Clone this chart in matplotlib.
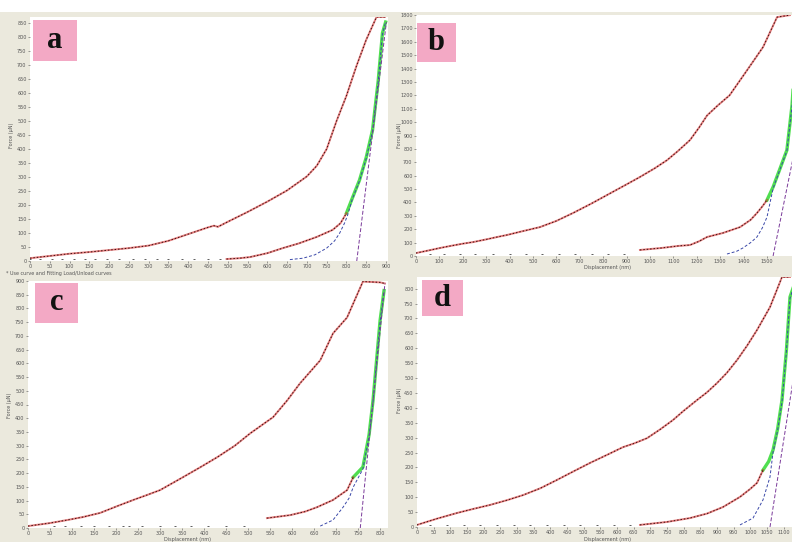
import matplotlib
matplotlib.use('Agg')
import matplotlib.pyplot as plt
from matplotlib.patches import Rectangle

# ---- panel a ----
a_upper_x = [0, 50, 100, 150, 200, 250, 300, 350, 400, 450, 465, 475, 500, 550, 600, 650,
             700, 725, 750, 775, 800, 825, 850, 876, 897]
a_upper_y = [10, 18, 26, 32, 39, 46, 55, 72, 96, 120, 126, 122, 140, 175, 212, 252,
             302, 340, 400, 500, 590, 695, 790, 871, 871]
a_lower_x = [497, 530, 556, 600, 639, 680, 725, 765, 785, 800]
a_lower_y = [7, 10, 14, 28, 46, 63, 86, 111, 135, 171]
a_base_x = [0, 25, 55, 80, 110, 140, 165, 195, 225, 260, 290, 320, 350, 385, 415, 450, 480]
a_fit_x = [800, 815, 833, 850, 866, 880, 891, 899]
a_fit_y = [171, 225, 289, 370, 468, 640, 814, 853]
a_blue_x = [657, 690, 720, 750, 770, 783, 795, 803, 815, 833, 850, 866, 880, 891, 899]
a_blue_y = [5, 10, 22, 46, 72, 100, 135, 164, 222, 286, 366, 464, 636, 810, 853]
a_tan_x = [826, 901]
a_tan_y = [0, 853]
a_xticks = list(range(0, 901, 50))
a_yticks = list(range(0, 851, 50))

# ---- panel b ----
b_upper_x = [0, 50, 103, 150, 200, 244, 300, 350, 389, 450, 530, 600, 671, 750, 816, 900,
             957, 1020, 1073, 1120, 1171, 1210, 1244, 1290, 1340, 1415, 1483, 1543, 1598]
b_upper_y = [22, 40, 60, 76, 92, 104, 124, 143, 157, 183, 216, 262, 321, 392, 455, 535,
             590, 655, 716, 785, 866, 960, 1050, 1125, 1200, 1388, 1560, 1784, 1799]
b_lower_x = [957, 1050, 1120, 1171, 1210, 1244, 1312, 1385, 1430, 1457, 1480, 1500]
b_lower_y = [45, 60, 75, 82, 110, 142, 172, 216, 270, 321, 370, 418]
b_base_x = [60, 120, 190, 250, 330, 400, 470, 540, 610, 680, 750, 820, 890]
b_fit_x = [1500, 1526, 1555, 1585, 1607, 1632]
b_fit_y = [418, 515, 650, 791, 1127, 1800]
b_blue_x = [1329, 1370, 1397, 1430, 1457, 1480, 1500, 1526, 1555, 1585, 1607, 1632]
b_blue_y = [15, 35, 60, 100, 142, 210, 291, 505, 645, 785, 1120, 1800]
b_tan_x = [1526, 1736]
b_tan_y = [0, 1800]
b_xticks = list(range(0, 1501, 100))
b_yticks = list(range(0, 1801, 100))

# ---- panel c ----
c_upper_x = [0, 50, 89, 125, 164, 200, 239, 270, 300, 352, 390, 430, 470, 505, 557, 589,
             618, 664, 693, 725, 739, 761, 800, 811]
c_upper_y = [7, 18, 29, 40, 55, 78, 102, 120, 138, 185, 220, 258, 300, 345, 404, 465,
             527, 611, 709, 767, 818, 898, 895, 891]
c_lower_x = [543, 596, 630, 657, 693, 725, 739]
c_lower_y = [36, 47, 60, 76, 102, 138, 185]
c_base_x = [60, 85, 120, 150, 185, 215, 230, 260, 300, 335, 370, 410, 450, 490]
c_fit_x = [739, 761, 775, 784, 800, 809]
c_fit_y = [185, 222, 340, 465, 756, 865]
c_blue_x = [664, 693, 716, 730, 739, 761, 775, 784, 800, 809]
c_blue_y = [7, 29, 76, 110, 149, 215, 335, 460, 750, 865]
c_tan_x = [755, 811]
c_tan_y = [0, 891]
c_xticks = list(range(0, 801, 50))
c_yticks = list(range(0, 901, 50))

# ---- panel d ----
d_upper_x = [0, 60, 120, 170, 219, 270, 318, 370, 420, 470, 519, 570, 618, 650, 690, 730,
             768, 800, 840, 870, 900, 930, 960, 990, 1020, 1059, 1095, 1119]
d_upper_y = [7, 28, 47, 61, 74, 90, 107, 130, 158, 187, 215, 242, 268, 280, 298, 328,
             359, 390, 426, 452, 483, 518, 560, 608, 661, 738, 839, 839]
d_lower_x = [669, 750, 819, 870, 918, 969, 1000, 1020, 1038]
d_lower_y = [7, 17, 30, 45, 67, 101, 128, 148, 191]
d_base_x = [40, 90, 140, 190, 240, 290, 340, 390, 440, 490, 540, 590, 640]
d_fit_x = [1038, 1055, 1068, 1082, 1095, 1108, 1119, 1140]
d_fit_y = [191, 220, 258, 330, 426, 590, 772, 840]
d_blue_x = [969, 1008, 1038, 1059, 1068, 1082, 1095, 1108, 1119, 1140]
d_blue_y = [7, 30, 91, 168, 250, 325, 420, 585, 768, 840]
d_tan_x = [1059, 1119, 1149]
d_tan_y = [0, 426, 640]
d_xticks = list(range(0, 1101, 50))
d_yticks = list(range(0, 801, 50))

W, H = 792, 542
BEIGE = '#ebe9dd'


def px_box(l, t, r, b):
    return [l / W, 1 - b / H, (r - l) / W, (b - t) / H]


def draw_panel(fig, rect, xlim, ylim, upper, lower, base, fit, blue, tan, xticks, yticks):
    ax = fig.add_axes(px_box(*rect))
    ax.set_facecolor('white')
    # 上の曲線
    ax.plot(upper[0], upper[1], color='#d42a2a', lw=1.4, alpha=0.6, zorder=3)
    ax.plot(upper[0], upper[1], color='#3a1010', lw=0.7, dashes=(1.5, 2.0), zorder=4)
    # 下の曲線
    ax.plot(lower[0], lower[1], color='#d42a2a', lw=1.4, alpha=0.6, zorder=3)
    ax.plot(lower[0], lower[1], color='#3a1010', lw=0.7, dashes=(1.5, 2.0), zorder=4)
    ax.plot(base, [ylim[1] * 0.01] * len(base), ls='none', marker='_', ms=1.6, mew=0.6,
            color='#444444', zorder=4)
    # フィットと接線
    ax.plot(fit[0], fit[1], color='#3ddc3d', lw=2.4, alpha=0.9, zorder=2)
    ax.plot(blue[0], blue[1], color='#3a48a8', lw=0.7, dashes=(3, 2), zorder=5)
    ax.plot(tan[0], tan[1], color='#7a3a9a', lw=0.7, dashes=(4, 2), zorder=5)
    ax.set_xlim(*xlim)
    ax.set_ylim(*ylim)
    ax.set_xticks(xticks)
    ax.set_yticks(yticks)
    ax.tick_params(labelsize=3.5, length=1.5, width=0.4, colors='#555555', pad=1)
    for s in ax.spines.values():
        s.set_visible(False)
    return ax


fig = plt.figure(figsize=(7.92, 5.42), dpi=100)
fig.patch.set_facecolor(BEIGE)
fig.patches.append(Rectangle((0, 1 - 12 / H), 1, 12 / H, transform=fig.transFigure,
                             facecolor='white', edgecolor='none', zorder=0))

draw_panel(fig, (30, 17, 388, 261), (0, 905), (0, 871),
           (a_upper_x, a_upper_y), (a_lower_x, a_lower_y), a_base_x,
           (a_fit_x, a_fit_y), (a_blue_x, a_blue_y), (a_tan_x, a_tan_y),
           a_xticks, a_yticks)
draw_panel(fig, (416, 15, 800, 256), (0, 1641), (0, 1800),
           (b_upper_x, b_upper_y), (b_lower_x, b_lower_y), b_base_x,
           (b_fit_x, b_fit_y), (b_blue_x, b_blue_y), (b_tan_x, b_tan_y),
           b_xticks, b_yticks)
draw_panel(fig, (28, 281, 388, 528), (0, 818), (0, 898),
           (c_upper_x, c_upper_y), (c_lower_x, c_lower_y), c_base_x,
           (c_fit_x, c_fit_y), (c_blue_x, c_blue_y), (c_tan_x, c_tan_y),
           c_xticks, c_yticks)
draw_panel(fig, (417, 277, 800, 527), (0, 1149), (0, 839),
           (d_upper_x, d_upper_y), (d_lower_x, d_lower_y), d_base_x,
           (d_fit_x, d_fit_y), (d_blue_x, d_blue_y), (d_tan_x, d_tan_y),
           d_xticks, d_yticks)

# ピンクのラベル
for letter, (l, t, r, b) in zip(['a', 'b', 'c', 'd'],
                                [(33, 20, 77, 61), (417, 23, 456, 62),
                                 (35, 283, 78, 323), (422, 280, 463, 316)]):
    fig.patches.append(Rectangle((l / W, 1 - b / H), (r - l) / W, (b - t) / H,
                                 transform=fig.transFigure, facecolor='#f3a9c5',
                                 edgecolor='none', zorder=5))
    fig.text((l + r) / 2 / W, 1 - (t + b) / 2 / H, letter, ha='center', va='center',
             fontsize=22, fontweight='bold', family='Liberation Serif', color='#111111',
             zorder=6)

# 小さい軸タイトル
small = dict(fontsize=3.5, color='#555555')
fig.text(607 / W, 1 - 268 / H, 'Displacement (nm)', ha='center', va='center', **small)
fig.text(187 / W, 1 - 539.5 / H, 'Displacement (nm)', ha='center', va='center', **small)
fig.text(607 / W, 1 - 539.5 / H, 'Displacement (nm)', ha='center', va='center', **small)
fig.text(6 / W, 1 - 274 / H, '* Use curve and Fitting Load/Unload curves',
         ha='left', va='center', **small)
for x, y in [(11, 135), (399, 135), (9, 405), (400, 400)]:
    fig.text(x / W, 1 - y / H, 'Force (\u03bcN)', rotation=90, ha='center', va='center',
             **small)

fig.savefig('out.png', dpi=100, facecolor=fig.get_facecolor())
